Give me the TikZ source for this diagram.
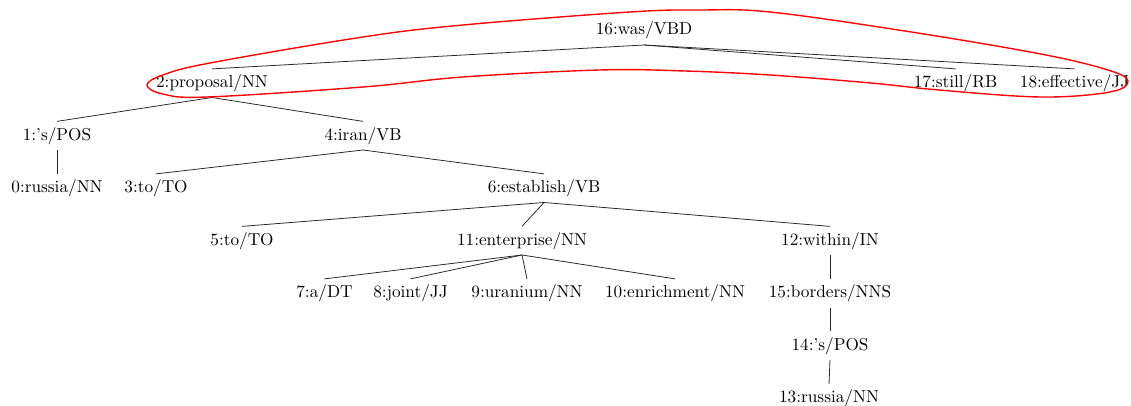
\documentclass[tikz,border=0pt]{standalone}
\begin{document}
\begin{tikzpicture}[x=0.58pt, y=-0.58pt,
  tok/.style={anchor=base, text height=7pt, text depth=2pt,
              inner ysep=3.6pt, inner xsep=0pt, font=\normalsize},
  dep/.style={draw=black!85, line width=0.45pt},
  group/.style={draw=red, line width=0.8pt}]
\useasboundingbox (0,0) rectangle (1131,406);

% tokens of the dependency tree
\node[tok] (n16) at (644,35)    {16:was/VBD};
\node[tok] (n2)  at (212,87.5)  {2:proposal/NN};
\node[tok] (n17) at (955.5,87.5) {17:still/RB};
\node[tok] (n18) at (1074.5,87.5) {18:effective/JJ};
\node[tok] (n1)  at (57,140)    {1:'s/POS};
\node[tok] (n4)  at (363,140)   {4:iran/VB};
\node[tok] (n0)  at (57,192.5)  {0:russia/NN};
\node[tok] (n3)  at (156,192.5) {3:to/TO};
\node[tok] (n6)  at (544,192.5) {6:establish/VB};
\node[tok] (n5)  at (242,245)   {5:to/TO};
\node[tok] (n11) at (522,245)   {11:enterprise/NN};
\node[tok] (n12) at (830,245)   {12:within/IN};
\node[tok] (n7)  at (324.5,297.5) {7:a/DT};
\node[tok] (n8)  at (410.5,297.5) {8:joint/JJ};
\node[tok] (n9)  at (527,297.5) {9:uranium/NN};
\node[tok] (n10) at (675,297.5) {10:enrichment/NN};
\node[tok] (n15) at (830,297.5) {15:borders/NNS};
\node[tok] (n14) at (830,350)   {14:'s/POS};
\node[tok] (n13) at (829,402.5) {13:russia/NN};

% head -> dependent edges
\foreach \p/\c in {n16/n2, n16/n17, n16/n18,
                   n2/n1, n2/n4, n1/n0,
                   n4/n3, n4/n6,
                   n6/n5, n6/n11, n6/n12,
                   n11/n7, n11/n8, n11/n9, n11/n10,
                   n12/n15, n15/n14, n14/n13}
  \draw[dep] (\p.south) -- (\c.north);

% loop around the top-level group
\draw[group] plot[smooth cycle, tension=0.6] coordinates {
  (147,85) (163,75) (210,63) (363,37) (463,25) (630,12) (700,10)
  (770,12) (905,31) (1041,54) (1108,70) (1128,81) (1110,92)
  (1041,97) (939,90) (871,83) (770,75) (685,71) (600,70)
  (463,77) (363,87) (207,97) (163,94)};
\end{tikzpicture}
\end{document}
